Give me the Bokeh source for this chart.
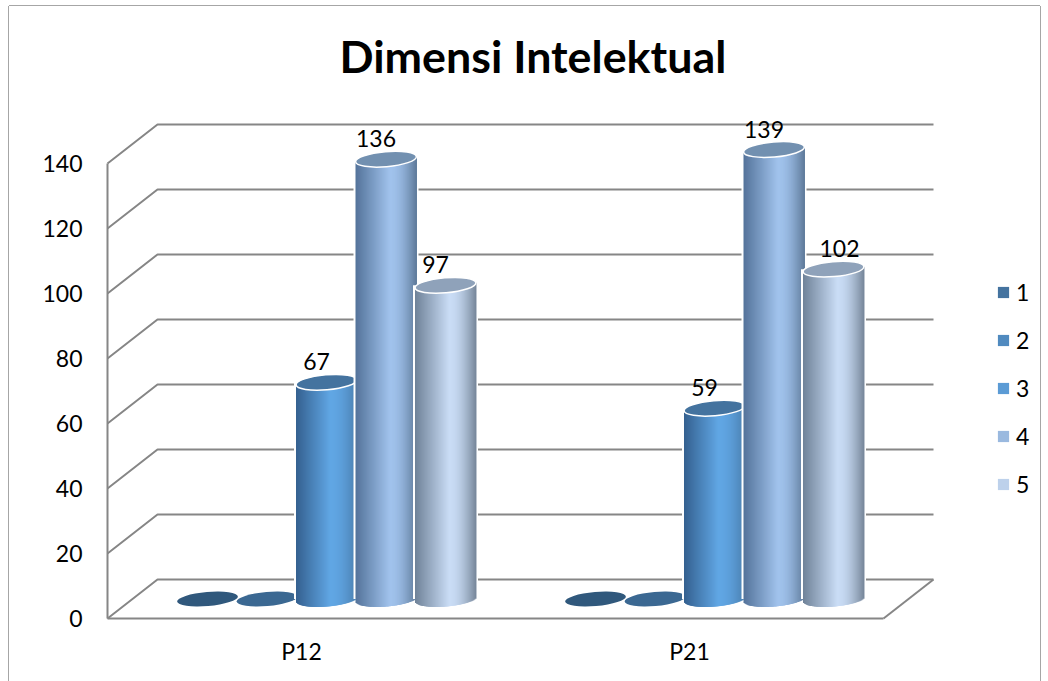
import numpy as np
from bokeh.core.properties import value
from bokeh.embed import file_html
from bokeh.models import (FixedTicker, Legend, LegendItem, LinearAxis, Range1d, Title)
from bokeh.plotting import figure
from bokeh.resources import INLINE

# ---- data ----
categories = ["P12", "P21"]
series_names = ["1", "2", "3", "4", "5"]
s1 = [0, 0]
s2 = [0, 0]
s3 = [67, 59]
s4 = [136, 139]
s5 = [97, 102]
y_ticks = [0, 20, 40, 60, 80, 100, 120, 140]

# ---- style ----
legend_colors = ["#44739f", "#508abf", "#5b9bd5", "#9ab9df", "#bdd1eb"]
cap_colors = ["#30587c", "#3b6892", "#44739f", "#7290b0", "#8fa2ba"]
edge_left = ["#30587c", "#3b6892", "#34608f", "#54739a", "#6f8298"]
edge_mid = ["#30587c", "#3b6892", "#60a6e4", "#a0c2ec", "#c9dcf5"]
edge_right = ["#30587c", "#3b6892", "#4a7eae", "#5f7a9a", "#77879a"]
GRID = "#868686"
FONT = "Lato"
TITLE_PX = 44.8
TICK_PX = "23px"

# layout, in page pixels
FIG_L, FIG_T, FIG_W, FIG_H = 9, 6, 1031, 675
FRAME_TOP = FIG_T + 81           # page y of the frame top under the title
CAT_PX = 388.0                   # one category
CAT0_PX = 301.0                  # page x of the first category
Y0_PX = 618.0                    # page y of value 0
UNIT_PX = 3.25                   # one value unit
DEPTH_X = 50 / CAT_PX            # wall offset
DEPTH_Y = 39 / UNIT_PX
BAR_STEP = 59.5 / CAT_PX
BAR_R = 30.5 / CAT_PX
CAP_B_PX = 7.5
TILT = 0.085
BAR_SCALE = 0.995
label_nudge = {(1, 4): 16}

p = figure(width=FIG_W, height=FIG_H, output_backend="svg", toolbar_location=None,
           x_axis_type=None, y_axis_type=None,
           min_border_left=0, min_border_right=0, min_border_bottom=0, min_border_top=81,
           outline_line_color=None, background_fill_color="white", border_fill_color="white",
           x_range=Range1d((FIG_L - CAT0_PX) / CAT_PX, (FIG_L + FIG_W - CAT0_PX) / CAT_PX),
           y_range=Range1d((Y0_PX - (FIG_T + FIG_H)) / UNIT_PX, (Y0_PX - FRAME_TOP) / UNIT_PX))
p.margin = (FIG_T, 0, 0, FIG_L)
p.styles = {"box-shadow": "-1px 0 0 #a6a6a6, 1px 0 0 #a6a6a6, 0 -1px 0 #a6a6a6"}

p.title = Title(text="Dimensi Intelektual", align="left", offset=330, text_font=FONT,
                text_font_style="bold", text_font_size=f"{TITLE_PX}px", text_color="black")

# walls and floor
x_left, x_right = -0.5, 1.5
grid_xs, grid_ys = [], []
for t in y_ticks:
    grid_xs.append([x_left, x_left + DEPTH_X, x_right + DEPTH_X])
    grid_ys.append([t, t + DEPTH_Y, t + DEPTH_Y])
grid_xs.append([x_right + DEPTH_X, x_right])
grid_ys.append([DEPTH_Y, 0])
p.multi_line(grid_xs, grid_ys, line_color=GRID, line_width=2)

# axes
yaxis = LinearAxis(fixed_location=x_left, bounds=(0, 140), ticker=FixedTicker(ticks=y_ticks),
                   major_tick_line_color=None, minor_tick_line_color=None,
                   axis_line_color=GRID, axis_line_width=2, major_label_standoff=19,
                   major_label_text_font=FONT, major_label_text_font_size=TICK_PX,
                   major_label_text_color="black")
p.add_layout(yaxis, "left")
xaxis = LinearAxis(fixed_location=0, bounds=(x_left, x_right), ticker=FixedTicker(ticks=[0, 1]),
                   major_label_overrides={i: c for i, c in enumerate(categories)},
                   major_tick_line_color=None, minor_tick_line_color=None,
                   axis_line_color=GRID, axis_line_width=2, major_label_standoff=12,
                   major_label_text_font=FONT, major_label_text_font_size=TICK_PX,
                   major_label_text_color="black")
p.add_layout(xaxis, "below")


def hex2rgb(h):
    return np.array([int(h[i:i + 2], 16) for i in (1, 3, 5)], dtype=float)


def shade(t, a, b, c, mid=0.12):
    if t < mid:
        k = (t + 1) / (mid + 1)
        col = hex2rgb(a) * (1 - k) + hex2rgb(b) * k
    else:
        k = (t - mid) / (1 - mid)
        k = 1 - np.cos(k * np.pi / 2)
        col = hex2rgb(b) * (1 - k) + hex2rgb(c) * k
    return "#%02x%02x%02x" % tuple(int(round(v)) for v in col)


all_series = [s1, s2, s3, s4, s5]
BASE_Y = 19.5 / UNIT_PX          # half the floor depth
BASE_X = 25 / CAT_PX
label_x, label_y, label_t = [], [], []
N = 61
edges = np.linspace(-1, 1, N + 1)
mids = (edges[:-1] + edges[1:]) / 2
for ci in range(len(categories)):
    for si, vals in enumerate(all_series):
        v = vals[ci]
        cx = ci + BASE_X + (si - 2) * BAR_STEP
        top = BASE_Y + v * BAR_SCALE
        if v > 0:
            # white rim
            p.quad(left=[cx - BAR_R - 2 / CAT_PX], right=[cx + BAR_R + 2 / CAT_PX],
                   top=[top], bottom=[BASE_Y], fill_color="white", line_color=None)
            # shaded body, cut along the lower arc of the base ellipse
            tilt = TILT * mids * 30.5 / UNIT_PX
            arc = CAP_B_PX / UNIT_PX * np.sqrt(np.clip(1 - mids ** 2, 0, 1))
            right = cx + edges[1:] * BAR_R + 1.5 / CAT_PX
            right[-1] = cx + BAR_R
            p.quad(left=cx + edges[:-1] * BAR_R, right=right,
                   top=top + tilt, bottom=BASE_Y + tilt - arc,
                   fill_color=[shade(t, edge_left[si], edge_mid[si], edge_right[si]) for t in mids],
                   line_color=None)
            p.ellipse([cx], [top], width=[61], height=[2 * CAP_B_PX], angle=TILT,
                      width_units="screen", height_units="screen",
                      fill_color=cap_colors[si], line_color="white", line_width=1.5)
            label_x.append(cx + (-10 + label_nudge.get((ci, si), 0)) / CAT_PX)
            label_y.append(top + 20.5 / UNIT_PX)
            label_t.append(str(v))
        else:
            p.ellipse([cx], [top], width=[61], height=[2 * CAP_B_PX - 1], angle=TILT,
                      width_units="screen", height_units="screen",
                      fill_color=cap_colors[si], line_color=None)

p.text(label_x, label_y, text=label_t, text_font=value(FONT), text_font_size=TICK_PX,
       text_color="black", text_align="center", text_baseline="middle")

# legend
items = []
for name, col in zip(series_names, legend_colors):
    r = p.quad(left=[np.nan], right=[np.nan], top=[np.nan], bottom=[np.nan],
               fill_color=col, line_color=None)
    items.append(LegendItem(label=name, renderers=[r]))
legend = Legend(items=items, location=(987, 183), orientation="vertical",
                border_line_color=None, background_fill_alpha=0,
                glyph_width=14, glyph_height=14, label_standoff=6, spacing=20,
                margin=0, padding=0,
                label_text_font=FONT, label_text_font_size=TICK_PX, label_text_color="black")
p.add_layout(legend, "center")

open("out.html", "w").write(file_html(p, INLINE))
